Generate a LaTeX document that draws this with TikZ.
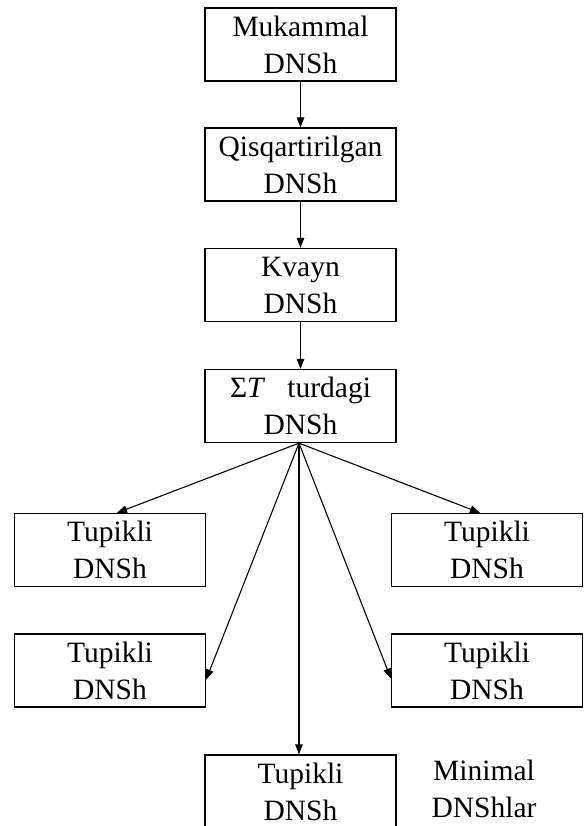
\documentclass[tikz,border=0pt]{standalone}
\usepackage{fontspec}
\setmainfont{Liberation Serif}
\usetikzlibrary{arrows.meta}
\begin{document}
\begin{tikzpicture}[x=1pt,y=-1pt,
  box/.style={draw, line width=1.3pt, minimum width=191pt, minimum height=73pt,
    inner sep=0pt, align=center, font=\fontsize{29.5}{37}\selectfont},
  thickbox/.style={box, line width=2pt},
  lbl/.style={inner sep=0pt, align=center, font=\fontsize{29.5}{37}\selectfont},
  arr/.style={line width=1.1pt, -{Triangle[length=10pt,width=7.5pt]}}]
\useasboundingbox (0,0) rectangle (583,826);
\node[thickbox] (b1) at (300.5,44.5) {Mukammal\\DNSh};
\node[box] (b2) at (300.5,164.5) {Qisqartirilgan\\DNSh};
\node[box] (b3) at (300.5,285) {Kvayn\\DNSh};
\node[box] (b4) at (300.5,406) {Σ\textit{T}\hspace{0.5em} turdagi\\DNSh};
\node[box] (l1) at (110,550) {Tupikli\\DNSh};
\node[box] (r1) at (487,550) {Tupikli\\DNSh};
\node[box] (l2) at (110,670.5) {Tupikli\\DNSh};
\node[box] (r2) at (487,670.5) {Tupikli\\DNSh};
\node[box] (bt) at (300.5,791.5) {Tupikli\\DNSh};
\node[lbl] (mn) at (484,789) {Minimal\\DNShlar};
\draw[arr] (b1.south) -- (b2.north);
\draw[arr] (b2.south) -- (b3.north);
\draw[arr] (b3.south) -- (b4.north);
\draw[arr] ([xshift=-1.5pt]b4.south) -- ([xshift=7pt]l1.north);
\draw[arr] ([xshift=-1.5pt]b4.south) -- ([xshift=-7pt]r1.north);
\draw[arr] ([xshift=-1.5pt]b4.south) -- ([yshift=-9pt]l2.east);
\draw[arr] ([xshift=-1.5pt]b4.south) -- ([yshift=-8pt]r2.west);
\draw[arr] ([xshift=-1.5pt]b4.south) -- ([xshift=-1.5pt]bt.north);
\end{tikzpicture}
\end{document}
